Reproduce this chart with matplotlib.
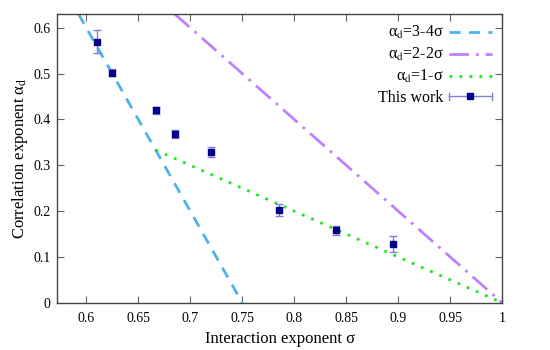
from __future__ import annotations

import matplotlib

matplotlib.use("Agg")
import matplotlib.pyplot as plt
from matplotlib.legend_handler import HandlerBase
from matplotlib.lines import Line2D

plt.rcParams["font.family"] = ["Liberation Serif", "DejaVu Serif"]
plt.rcParams["mathtext.fontset"] = "stix"

# measured exponents ("This work")
sigma = [0.61, 0.625, 0.667, 0.685, 0.72, 0.785, 0.84, 0.895]
alpha_d = [0.570, 0.502, 0.420, 0.368, 0.328, 0.202, 0.158, 0.128]
alpha_err = [0.026, 0.007, 0.008, 0.008, 0.011, 0.013, 0.010, 0.017]

# theory lines (endpoints)
line_a_sigma = [0.5925, 0.75]   # alpha_d = 3 - 4 sigma
line_a_alpha = [0.63, 0.0]
line_b_sigma = [0.685, 1.0]     # alpha_d = 2 - 2 sigma
line_b_alpha = [0.63, 0.0]
line_c_sigma = [2 / 3, 1.0]     # alpha_d = 1 - sigma
line_c_alpha = [1 / 3, 0.0]

x_ticks = [0.6, 0.65, 0.7, 0.75, 0.8, 0.85, 0.9, 0.95, 1.0]
x_tick_labels = ["0.6", "0.65", "0.7", "0.75", "0.8", "0.85", "0.9", "0.95", "1"]
y_ticks = [0, 0.1, 0.2, 0.3, 0.4, 0.5, 0.6]
y_tick_labels = ["0", "0.1", "0.2", "0.3", "0.4", "0.5", "0.6"]

POINT_COLOR = "#00008b"
ERR_COLOR = "#8080d8"


class HorizontalErrHandler(HandlerBase):
    def create_artists(self, legend, orig_handle, xdescent, ydescent, width, height, fontsize, trans):
        y = height / 2 - ydescent
        x0, x1 = -xdescent, width - xdescent
        cap = height * 0.3
        artists = [
            Line2D([x0, x1], [y, y], color=ERR_COLOR, lw=1.0),
            Line2D([x0, x0], [y - cap, y + cap], color=ERR_COLOR, lw=1.0),
            Line2D([x1, x1], [y - cap, y + cap], color=ERR_COLOR, lw=1.0),
            Line2D([(x0 + x1) / 2], [y], marker="s", ms=4.5, color=POINT_COLOR, lw=0),
        ]
        for a in artists:
            a.set_transform(trans)
        return artists


fig = plt.figure(figsize=(5.5, 3.5), dpi=100)
ax = fig.add_axes([0.104, 0.135, 0.809, 0.825])

ax.plot(line_a_sigma, line_a_alpha, color="#4cb4ea", lw=2.0, ls=(0, (4, 3)),
        label=r"α$_\mathrm{d}$=3-4σ")
ax.plot(line_b_sigma, line_b_alpha, color="#bf80ff", lw=2.0, ls=(0, (7, 2.5, 1, 2.5)),
        label=r"α$_\mathrm{d}$=2-2σ")
ax.plot(line_c_sigma, line_c_alpha, color="#1ee61e", lw=2.0, ls=(0, (1, 2.6)),
        label=r"α$_\mathrm{d}$=1-σ")
eb = ax.errorbar(sigma, alpha_d, yerr=alpha_err, fmt="s", ms=4.5, color=POINT_COLOR,
                 ecolor=ERR_COLOR, elinewidth=1.0, capsize=3, capthick=1.0,
                 label="This work", zorder=5)

ax.set_xlim(0.572, 1.0)
ax.set_ylim(0, 0.63)
ax.set_xticks(x_ticks, labels=x_tick_labels)
ax.set_yticks(y_ticks, labels=y_tick_labels)
ax.tick_params(direction="in", top=True, right=True, length=5, width=0.8,
               color="#666666", labelsize=10)
ax.tick_params(axis="x", pad=7)
ax.tick_params(axis="y", pad=5)
for s in ax.spines.values():
    s.set_color("#444444")
    s.set_linewidth(1.0)

ax.set_xlabel("Interaction exponent σ", fontsize=12, labelpad=4)
ax.set_ylabel(r"Correlation exponent α$_\mathrm{d}$", fontsize=12, labelpad=2)

handles, labels = ax.get_legend_handles_labels()
ax.legend(handles, labels, loc="upper right", frameon=False, markerfirst=False,
          fontsize=11.5, handlelength=2.7, handletextpad=0.3, labelspacing=0.3,
          borderaxespad=0.25, handler_map={type(eb): HorizontalErrHandler()})

fig.savefig("out.png", dpi=100)
plt.close(fig)
